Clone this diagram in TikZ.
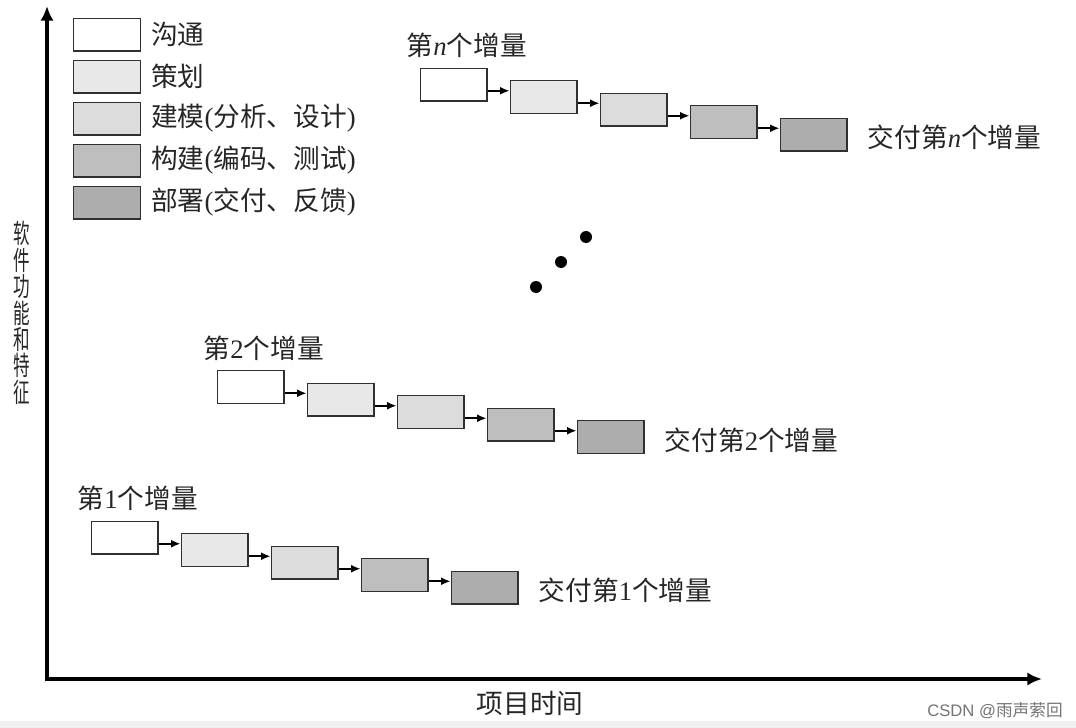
\documentclass[tikz,border=0pt]{standalone}
\usepackage{fontspec}
\setmainfont{Liberation Serif}
\setsansfont{Liberation Sans}
\newfontfamily\cjk{Noto Sans CJK SC}
\usetikzlibrary{arrows.meta,calc}
\definecolor{cA}{HTML}{FFFFFF}
\definecolor{cB}{HTML}{E8E8E8}
\definecolor{cC}{HTML}{DCDCDC}
\definecolor{cD}{HTML}{BEBEBE}
\definecolor{cE}{HTML}{ADADAD}
\definecolor{edge}{HTML}{303030}
\definecolor{band}{HTML}{F0F0F0}
\tikzset{
  stepbox/.style={draw=edge, line width=1pt, minimum width=50pt, minimum height=24.5pt, inner sep=0pt},
  lab/.style={font=\fontsize{20}{22}\selectfont, inner sep=0pt, text=black!85},
  flow/.style={line width=1.3pt, -{Latex[length=7pt,width=6pt]}},
  axis/.style={line width=3pt, -{Latex[length=11pt,width=10pt]}},
}
\begin{document}
\begin{tikzpicture}[x=0.75pt,y=-0.75pt]
\useasboundingbox (0,0) rectangle (1076,728);
\fill[band] (0,721) rectangle (1076,728);
% axes
\coordinate (o) at (47,679);
\coordinate (ytop) at (47,6);
\coordinate (xend) at (1042,679);
\draw[axis] ($(o)+(0,2)$) -- (ytop);
\draw[axis] ($(o)+(-2,0)$) -- (xend);
\node[lab] (xl) at (530,703) {\cjk 项目时间};
\node[inner sep=0pt, text=black!85, font=\cjk\fontsize{20}{19.8}\selectfont, align=center, xscale=0.62] (yl) at (22,313) {软\\件\\功\\能\\和\\特\\征};
% legend
\foreach \i/\c/\t in {1/cA/{沟通},2/cB/{策划},3/cC/{建模{\rmfamily(}分析、设计{\rmfamily)}},4/cD/{构建{\rmfamily(}编码、测试{\rmfamily)}},5/cE/{部署{\rmfamily(}交付、反馈{\rmfamily)}}}{
  \node[stepbox, fill=\c] (lg\i) at (107,{34.5+42*(\i-1)}) {};
  \node[lab, anchor=west] (lt\i) at ($(lg\i.east)+(10,0)$) {\cjk \t};
}
% chains
\foreach \k/\x/\y/\num in {n/453.5/84.5/{\textit{n}}, 2/250.5/387/2, 1/124.5/537.5/1}{
  \foreach \i/\c in {1/cA,2/cB,3/cC,4/cD,5/cE}{
    \node[stepbox, fill=\c] (b\k\i) at ({\x+90*(\i-1)},{\y+12.5*(\i-1)}) {};
  }
  \foreach \i in {1,...,4}{
    \pgfmathtruncatemacro\j{\i+1}
    \coordinate (m\k\i) at ($(b\k\i.center)!0.5!(b\k\j.center)$);
    \draw[flow] (b\k\i.east |- m\k\i) -- (b\k\j.west |- m\k\i);
  }
  \node[lab, anchor=west] (s\k) at ($(b\k1.north west)+(-13,-22)$) {{\cjk 第}\num{\cjk 个增量}};
  \node[lab, anchor=west] (d\k) at ($(b\k5.east)+(20,3)$) {{\cjk 交付第}\num{\cjk 个增量}};
}
% dots
\foreach \i/\px/\py in {1/586/237,2/561/262,3/536/287}{
  \fill (\px,\py) circle (4.5pt) coordinate (dot\i);
}
\node[font=\sffamily\fontsize{12.5}{14}\selectfont, text=black!55, anchor=east, inner sep=0pt] (wm) at (1063,711) {CSDN @{\cjk 雨声萦回}};
\end{tikzpicture}
\end{document}
